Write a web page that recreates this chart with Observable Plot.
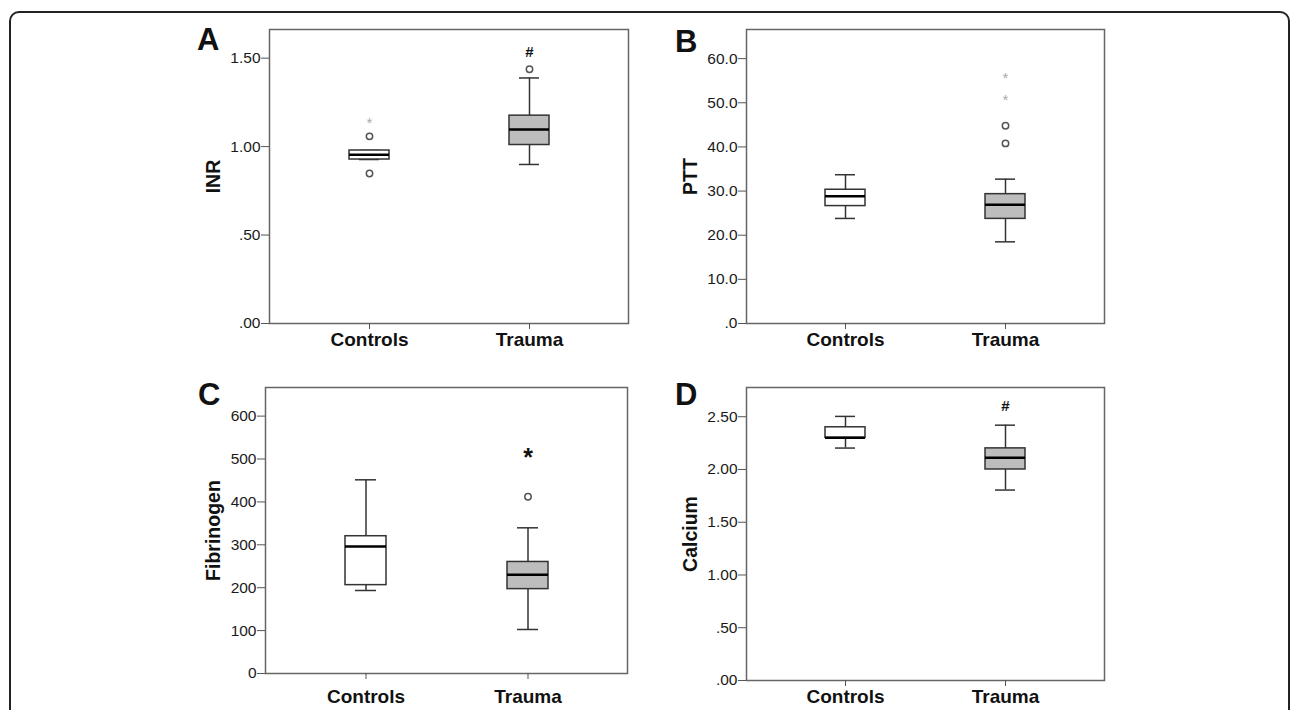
<!DOCTYPE html>
<html>
<head>
<meta charset="utf-8">
<script src="https://cdn.jsdelivr.net/npm/d3@7"></script>
<script src="https://cdn.jsdelivr.net/npm/@observablehq/plot@0.6"></script>
<style>
  html, body { margin: 0; padding: 0; background: #fff; }
  #page { position: relative; width: 1296px; height: 710px; overflow: hidden; font-family: "Liberation Sans", Arial, sans-serif; }
  #border { position: absolute; left: 9px; top: 11px; width: 1281px; height: 760px; border: 2px solid #222; border-radius: 10px; box-sizing: border-box; }
  .panel { position: absolute; }
  .panel svg { overflow: visible; }
  .letter { position: absolute; font-size: 31px; line-height: 31px; font-weight: bold; color: #111; }
</style>
</head>
<body>
<div id="page"><div id="border"></div></div>
<script>
// ---- data ----
const groups = ["Controls", "Trauma"];

// A: INR
const inrLow  = [0.927, 0.899];
const inrQ1   = [0.927, 1.009];
const inrMed  = [0.954, 1.097];
const inrQ3   = [0.978, 1.175];
const inrHigh = [0.978, 1.388];
const inrOutGroup = ["Controls", "Controls", "Trauma"];
const inrOutValue = [1.058, 0.848, 1.437];
const inrExtGroup = ["Controls"];
const inrExtValue = [1.156];
const inrSigGroup = ["Trauma"];
const inrSigValue = [1.535];
const inrSigText  = ["#"];
const inrTicks = [0, 0.5, 1.0, 1.5];

// B: PTT
const pttLow  = [23.8, 18.5];
const pttQ1   = [26.6, 23.7];
const pttMed  = [28.8, 26.9];
const pttQ3   = [30.3, 29.3];
const pttHigh = [33.7, 32.7];
const pttOutGroup = ["Trauma", "Trauma"];
const pttOutValue = [44.8, 40.8];
const pttExtGroup = ["Trauma", "Trauma"];
const pttExtValue = [56.4, 51.4];
const pttSigGroup = [];
const pttSigValue = [];
const pttSigText  = [];
const pttTicks = [0, 10, 20, 30, 40, 50, 60];

// C: Fibrinogen
const fibLow  = [193.5, 102.6];
const fibQ1   = [206, 196.7];
const fibMed  = [296, 230];
const fibQ3   = [320, 260];
const fibHigh = [451.5, 339.6];
const fibOutGroup = ["Trauma"];
const fibOutValue = [412];
const fibExtGroup = [];
const fibExtValue = [];
const fibSigGroup = ["Trauma"];
const fibSigValue = [515];
const fibSigText  = ["*"];
const fibTicks = [0, 100, 200, 300, 400, 500, 600];

// D: Calcium
const caLow  = [2.203, 1.805];
const caQ1   = [2.30, 2.00];
const caMed  = [2.30, 2.11];
const caQ3   = [2.40, 2.20];
const caHigh = [2.503, 2.42];
const caOutGroup = [];
const caOutValue = [];
const caExtGroup = [];
const caExtValue = [];
const caSigGroup = ["Trauma"];
const caSigValue = [2.604];
const caSigText  = ["#"];
const caTicks = [0, 0.5, 1.0, 1.5, 2.0, 2.5];

// ---- helpers ----
const strip = f => d => { const s = d3.format(f)(d); return s.startsWith("0.") ? s.slice(1) : s; };
const boxTable = (lo, q1, med, q3, hi) => groups.map((g, i) => ({group: g, low: lo[i], q1: q1[i], med: med[i], q3: q3[i], high: hi[i]}));
const pts = (gs, vs, ts) => gs.map((g, i) => ({group: g, value: vs[i], text: ts ? ts[i] : "*"}));
const boxFill = {Controls: "#ffffff", Trauma: "#bdbdbd"};

const panels = [
  {letter: "A", label: "INR", ymax: 1.662, ticks: inrTicks, fmt: strip(".2f"),
   box: boxTable(inrLow, inrQ1, inrMed, inrQ3, inrHigh),
   out: pts(inrOutGroup, inrOutValue), ext: pts(inrExtGroup, inrExtValue), sig: pts(inrSigGroup, inrSigValue, inrSigText),
   layout: {left: 269, right: 628, top: 29, bottom: 323, labelX: 213, letterX: 197, capTop: 28, xPad: 3, sigSize: 15, sigDy: 0}},
  {letter: "B", label: "PTT", ymax: 66.6, ticks: pttTicks, fmt: strip(".1f"),
   box: boxTable(pttLow, pttQ1, pttMed, pttQ3, pttHigh),
   out: pts(pttOutGroup, pttOutValue), ext: pts(pttExtGroup, pttExtValue), sig: pts(pttSigGroup, pttSigValue, pttSigText),
   layout: {left: 746, right: 1104, top: 29, bottom: 323, labelX: 690, letterX: 675, capTop: 30, xPad: 3, sigSize: 15, sigDy: 0}},
  {letter: "C", label: "Fibrinogen", ymax: 666.7, ticks: fibTicks, fmt: d3.format("d"),
   box: boxTable(fibLow, fibQ1, fibMed, fibQ3, fibHigh),
   out: pts(fibOutGroup, fibOutValue), ext: pts(fibExtGroup, fibExtValue), sig: pts(fibSigGroup, fibSigValue, fibSigText),
   layout: {left: 265, right: 627, top: 387, bottom: 673, labelX: 213, letterX: 198, capTop: 383, xPad: 10, sigSize: 25, sigDy: 5}},
  {letter: "D", label: "Calcium", ymax: 2.777, ticks: caTicks, fmt: strip(".2f"),
   box: boxTable(caLow, caQ1, caMed, caQ3, caHigh),
   out: pts(caOutGroup, caOutValue), ext: pts(caExtGroup, caExtValue), sig: pts(caSigGroup, caSigValue, caSigText),
   layout: {left: 746, right: 1104, top: 387, bottom: 680, labelX: 690, letterX: 675, capTop: 383, xPad: 3, sigSize: 15, sigDy: 0}}
];

const page = document.getElementById("page");
const font = "Liberation Sans, Arial, sans-serif";

for (const p of panels) {
  const L = p.layout;
  const mL = 100, mT = 20, mR = 10, mB = 40;
  const svgLeft = L.left - mL, svgTop = L.top - mT;
  const width = L.right - svgLeft + mR;
  const height = L.bottom - svgTop + mB;

  const chart = Plot.plot({
    width, height,
    marginLeft: mL, marginTop: mT, marginRight: mR, marginBottom: mB,
    style: {fontFamily: font, background: "transparent", overflow: "visible"},
    x: {type: "band", domain: groups, paddingInner: 0.75, paddingOuter: 0.49, axis: null},
    y: {domain: [0, p.ymax], axis: null},
    marks: [
      Plot.ruleX(p.box, {x: "group", y1: "low", y2: "high", stroke: "#333", strokeWidth: 1.5}),
      Plot.tickY(p.box, {x: "group", y: "low", insetLeft: 10, insetRight: 10, stroke: "#333", strokeWidth: 1.5}),
      Plot.tickY(p.box, {x: "group", y: "high", insetLeft: 10, insetRight: 10, stroke: "#333", strokeWidth: 1.5}),
      Plot.barY(p.box, {x: "group", y1: "q1", y2: "q3", fill: d => boxFill[d.group], stroke: "#333", strokeWidth: 1.5}),
      Plot.tickY(p.box, {x: "group", y: "med", stroke: "#000", strokeWidth: 2.5}),
      Plot.dot(p.out, {x: "group", y: "value", r: 3.2, stroke: "#555", strokeWidth: 1.5, fill: "white"}),
      Plot.text(p.ext, {x: "group", y: "value", text: "text", fill: "#aaa", fontSize: 15, dy: 4}),
      Plot.text(p.sig, {x: "group", y: "value", text: "text", fill: "#111", fontWeight: "bold", fontSize: L.sigSize, dy: L.sigDy}),
      Plot.frame({stroke: "#666", strokeWidth: 1.5}),
      Plot.axisY({ticks: p.ticks, tickFormat: p.fmt, tickSize: 8, tickPadding: 1, fontSize: 15.5, stroke: "#555", fill: "#1a1a1a", label: null}),
      Plot.axisX({tickSize: 6, tickPadding: L.xPad, fontSize: 19, fontWeight: "bold", stroke: "#555", fill: "#111", label: null}),
      Plot.text([p.label], {text: d => d, frameAnchor: "left", dx: L.labelX - L.left, rotate: -90, textAnchor: "middle", fontWeight: "bold", fontSize: 19.5, fill: "#111"})
    ]
  });

  const holder = document.createElement("div");
  holder.className = "panel";
  holder.style.left = svgLeft + "px";
  holder.style.top = svgTop + "px";
  holder.appendChild(chart);
  page.appendChild(holder);

  const letter = document.createElement("div");
  letter.className = "letter";
  letter.textContent = p.letter;
  letter.style.left = L.letterX + "px";
  letter.style.top = (L.capTop - 4) + "px";
  page.appendChild(letter);
}
</script>
</body>
</html>
